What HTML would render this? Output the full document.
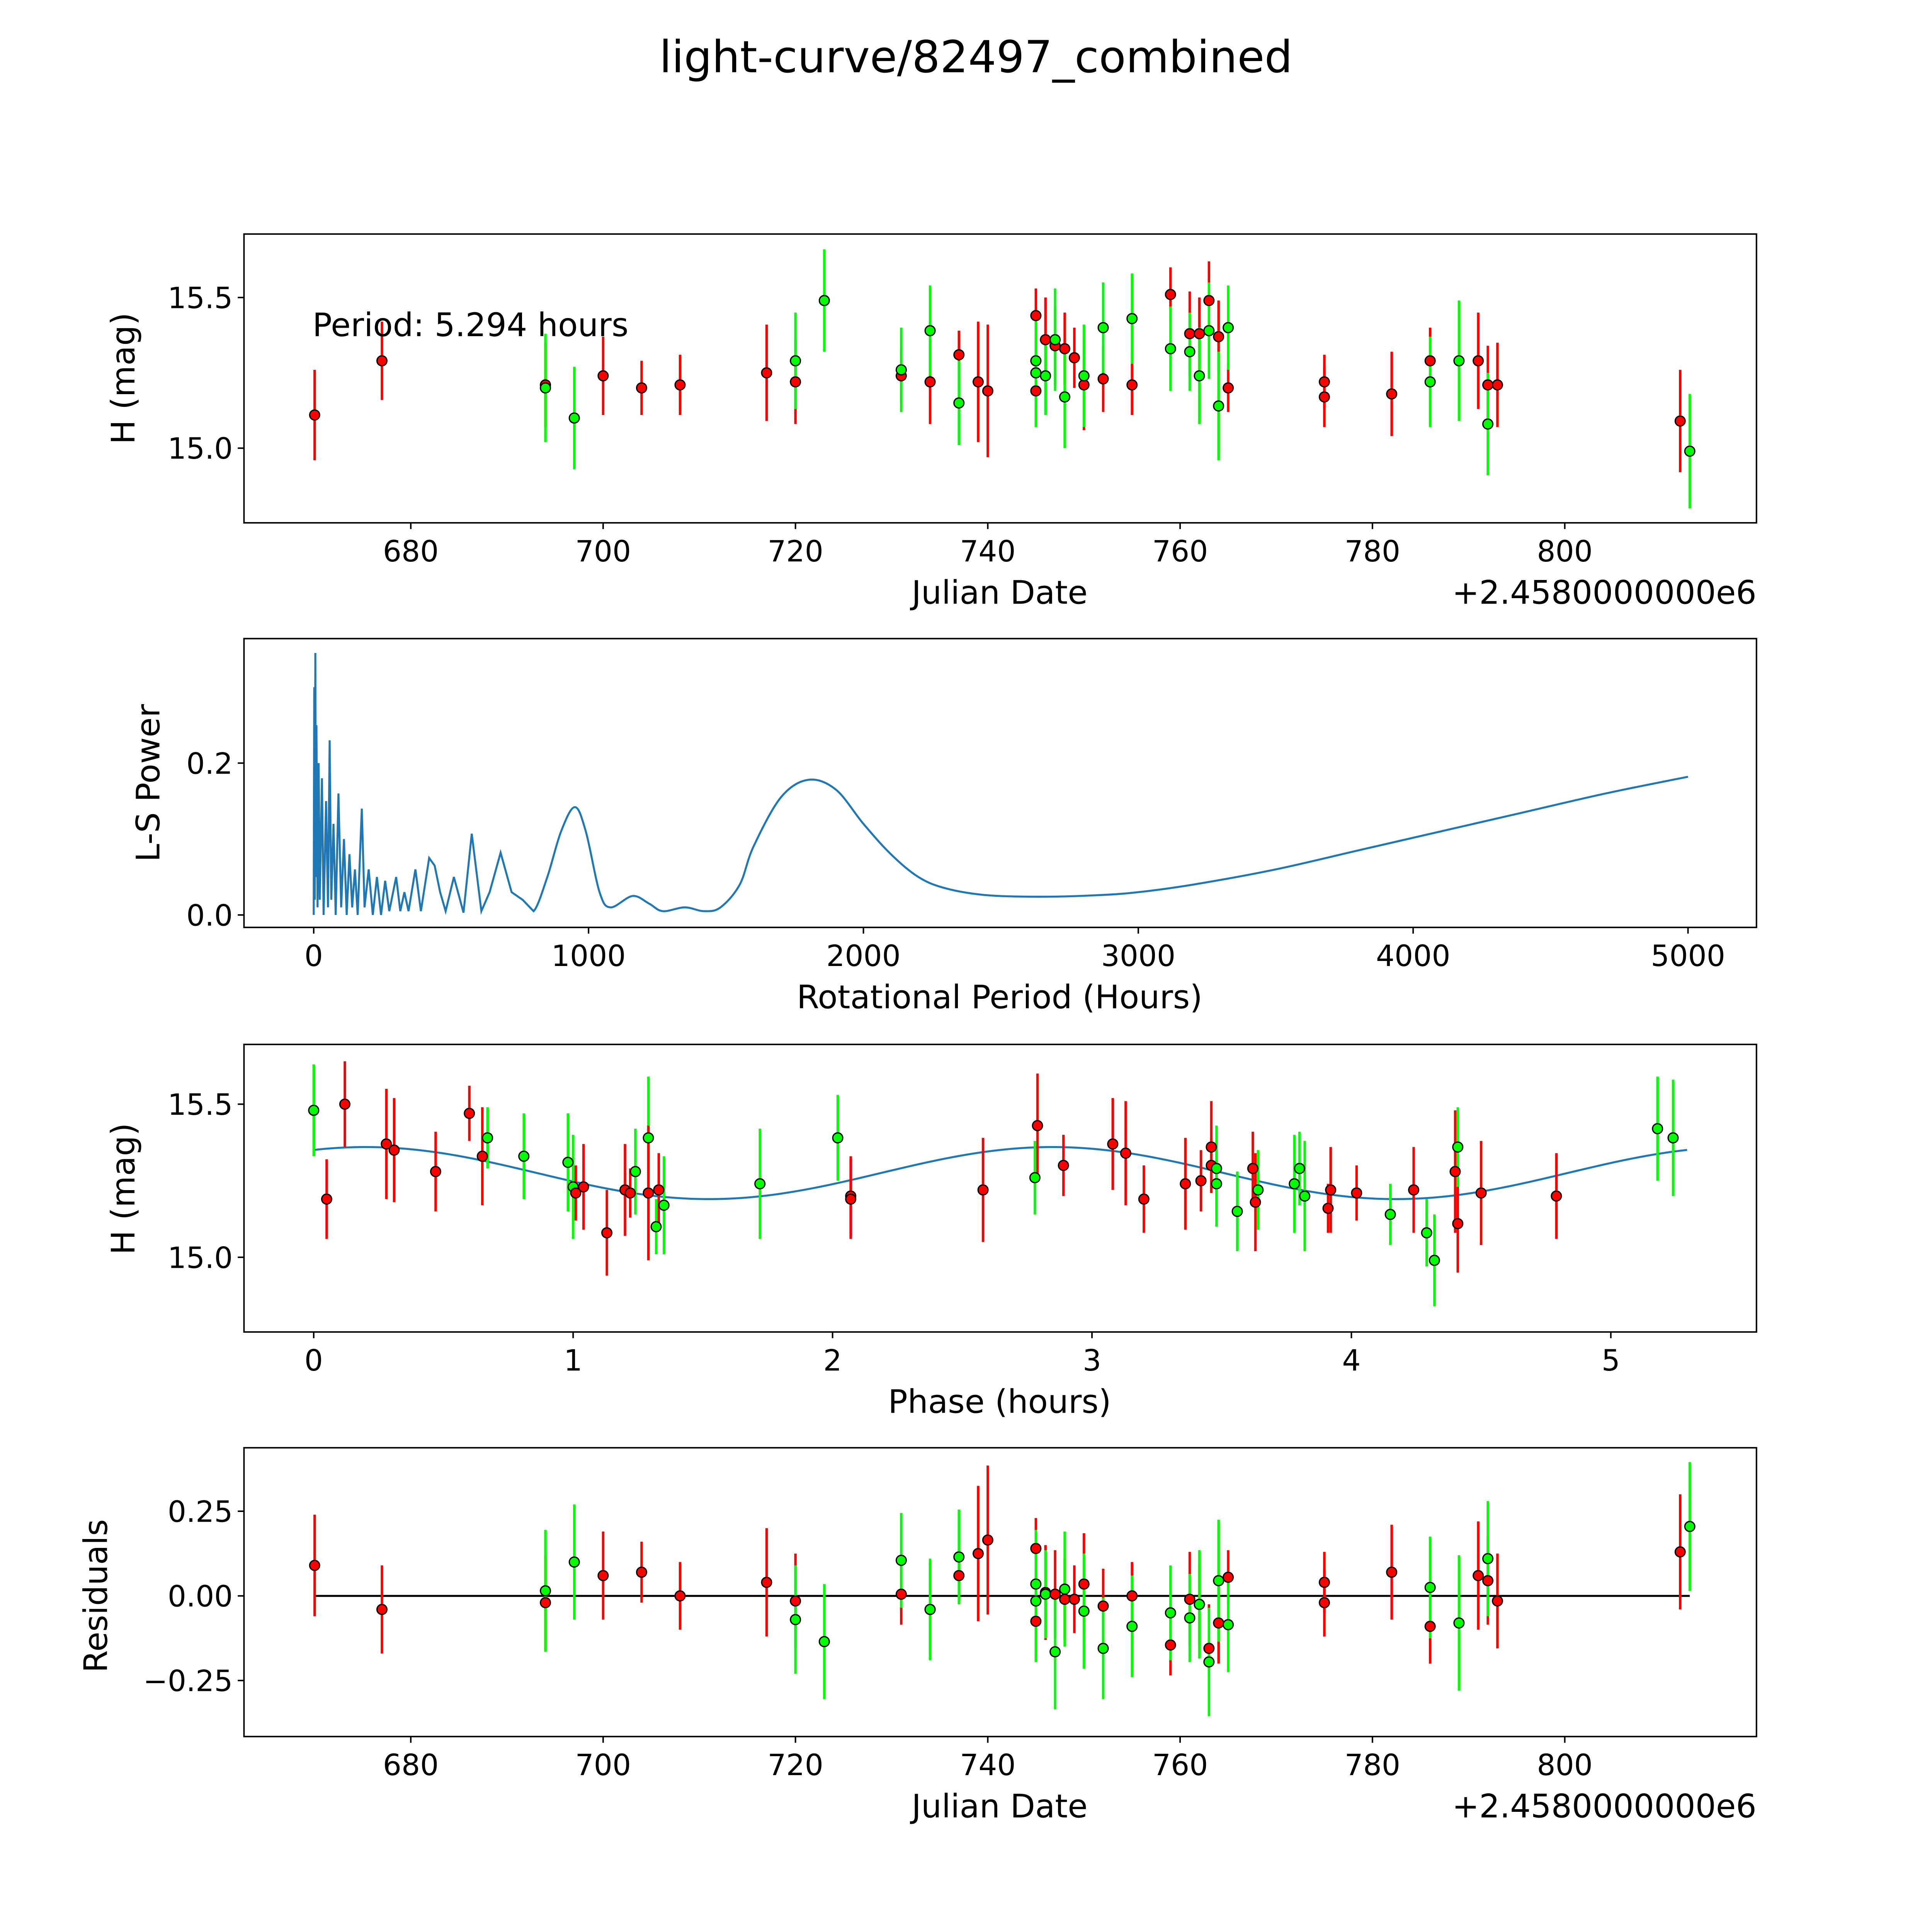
<!DOCTYPE html>
<html><head><meta charset="utf-8"><style>
html,body{margin:0;padding:0;background:#fff;overflow:hidden;width:100vw;height:100vh;}
svg{display:block;position:fixed;left:0;top:0;width:100vw;height:100vh;font-family:"DejaVu Sans","Liberation Sans",sans-serif;}
</style></head><body>
<svg id="chart" viewBox="0 0 1552 1552" preserveAspectRatio="none" xmlns="http://www.w3.org/2000/svg">
<rect width="1552" height="1552" fill="#fff"/>
<text x="784" y="58" font-size="35.5" text-anchor="middle">light-curve/82497_combined</text>
<g id="g"></g>
</svg>
<script>
// observation data
const jd = [670,677,694,694,697,700,704,708,717,720,720,723,731,731,734,734,737,737,739,740,745,745,745,745,746,746,747,747,748,748,749,750,750,752,752,755,755,759,759,761,761,762,762,763,763,764,764,765,765,775,775,782,786,786,789,791,792,792,793,812,813];
const mag = [15.11,15.29,15.21,15.20,15.10,15.24,15.20,15.21,15.25,15.22,15.29,15.49,15.24,15.26,15.22,15.39,15.31,15.15,15.22,15.19,15.44,15.19,15.29,15.25,15.36,15.24,15.34,15.36,15.33,15.17,15.30,15.21,15.24,15.23,15.40,15.21,15.43,15.51,15.33,15.38,15.32,15.38,15.24,15.49,15.39,15.37,15.14,15.20,15.40,15.22,15.17,15.18,15.29,15.22,15.29,15.29,15.21,15.08,15.21,15.09,14.99];
const band = ["r","r","r","g","g","r","r","r","r","r","g","g","r","g","r","g","r","g","r","r","r","r","g","g","r","g","r","g","r","g","r","r","g","r","g","r","g","r","g","r","g","r","g","r","g","r","g","r","g","r","r","r","r","g","g","r","r","g","r","r","g"];
const err = [0.15,0.13,0.14,0.18,0.17,0.13,0.09,0.1,0.16,0.14,0.16,0.17,0.09,0.14,0.14,0.15,0.08,0.14,0.2,0.22,0.09,0.12,0.16,0.18,0.14,0.13,0.13,0.17,0.12,0.17,0.1,0.15,0.17,0.11,0.15,0.1,0.15,0.09,0.14,0.14,0.13,0.12,0.16,0.13,0.16,0.12,0.18,0.08,0.14,0.09,0.1,0.14,0.11,0.15,0.2,0.16,0.13,0.17,0.14,0.17,0.19];
const resid = [0.09,-0.04,-0.02,0.015,0.10,0.06,0.07,0.0,0.04,-0.015,-0.07,-0.135,0.005,0.105,-0.04,-0.04,0.06,0.115,0.125,0.165,0.14,-0.075,0.035,-0.015,0.01,0.005,0.005,-0.165,-0.01,0.02,-0.01,0.035,-0.045,-0.03,-0.155,0.0,-0.09,-0.145,-0.05,-0.01,-0.065,-0.025,-0.025,-0.155,-0.195,-0.08,0.045,0.055,-0.085,0.04,-0.02,0.07,-0.09,0.025,-0.08,0.06,0.045,0.11,-0.015,0.13,0.205];
// phased data
const phP = [0,0.05,0.12,0.28,0.31,0.47,0.6,0.67,0.65,0.81,0.98,1.0,1.01,1.04,1.13,1.2,1.22,1.24,1.29,1.29,1.32,1.33,1.35,1.72,2.02,2.07,2.07,2.58,2.78,2.79,2.89,3.08,3.13,3.2,3.36,3.42,3.46,3.46,3.48,3.48,3.56,3.62,3.63,3.64,3.78,3.8,3.82,3.91,3.92,4.02,4.15,4.24,4.29,4.32,4.4,4.41,4.41,4.5,4.79,5.18,5.24];
const phMag = [15.48,15.19,15.50,15.37,15.35,15.28,15.47,15.39,15.33,15.33,15.31,15.23,15.21,15.23,15.08,15.22,15.21,15.28,15.39,15.21,15.10,15.22,15.17,15.24,15.39,15.20,15.19,15.22,15.26,15.43,15.30,15.37,15.34,15.19,15.24,15.25,15.36,15.30,15.29,15.24,15.15,15.29,15.18,15.22,15.24,15.29,15.20,15.16,15.22,15.21,15.14,15.22,15.08,14.99,15.28,15.11,15.36,15.21,15.20,15.42,15.39];
const phBand = ["g","r","r","r","r","r","r","g","r","g","g","g","r","r","r","r","r","g","g","r","g","r","g","g","g","r","r","r","g","r","r","r","r","r","r","r","r","r","g","g","g","r","r","g","g","g","g","r","r","r","g","r","g","g","r","r","g","r","r","g","g"];
// periodogram
const lsPeriod = [0,2,4,6,8,10,14,18,22,30,36,45,52,58,64,72,80,90,100,110,120,130,140,150,160,175,185,200,215,230,245,260,275,300,315,330,345,370,390,420,440,460,480,510,545,575,610,640,680,720,760,800,850,900,950,990,1040,1080,1160,1220,1270,1350,1420,1480,1550,1600,1700,1800,1900,2000,2100,2200,2300,2450,2650,2850,3000,3200,3500,3800,4100,4400,4700,5000];
const lsPower = [0,0.30,0.02,0.345,0.05,0.25,0.01,0.2,0.02,0.18,0,0.15,0.01,0.23,0.02,0.12,0,0.16,0.01,0.1,0,0.08,0.01,0.06,0,0.14,0.01,0.06,0,0.05,0,0.045,0.005,0.05,0.005,0.03,0.005,0.06,0.005,0.075,0.065,0.03,0.005,0.05,0.003,0.107,0.005,0.03,0.082,0.03,0.02,0.005,0.05,0.11,0.142,0.11,0.03,0.01,0.025,0.015,0.005,0.01,0.005,0.01,0.04,0.09,0.155,0.178,0.165,0.12,0.08,0.05,0.035,0.026,0.024,0.026,0.03,0.04,0.06,0.085,0.11,0.135,0.16,0.182];
const period = 5.294;
const xTicksJD = [680,700,720,740,760,780,800];
const yTicksMag = [15.0,15.5];
const xTicksLS = [0,1000,2000,3000,4000,5000];
const yTicksLS = [0.0,0.2];
const xTicksPh = [0,1,2,3,4,5];
const yTicksRes = [-0.25,0.00,0.25];

const NS="http://www.w3.org/2000/svg";
const G=document.getElementById('g');
function mk(tag,attrs,parent){const e=document.createElementNS(NS,tag);for(const k in attrs)e.setAttribute(k,attrs[k]);(parent||G).appendChild(e);return e;}
function lin(d0,d1,p0,p1){return v=>p0+(v-d0)*(p1-p0)/(d1-d0);}
const L=196,R=1411;
const xJD=lin(680,800,330,1257);
const TS=23.5, LS=26;
function frame(top,bot,name){
  const r=mk('rect',{x:L,y:top,width:R-L,height:bot-top,fill:'none',stroke:'#000','stroke-width':1.2});
  
  
}
function xticks(ticks,fx,bot,fmt,name){
  ticks.forEach(t=>{const x=fx(t);
    mk('line',{x1:x,x2:x,y1:bot,y2:bot+5,stroke:'#000','stroke-width':1.2});
    const tx=mk('text',{x:x,y:bot+31,'font-size':TS,'text-anchor':'middle'});tx.textContent=fmt(t);
    
    
  });
}
function yticks(ticks,fy,fmt,name){
  ticks.forEach(t=>{const y=fy(t);
    mk('line',{x1:L-5,x2:L,y1:y,y2:y,stroke:'#000','stroke-width':1.2});
    const tx=mk('text',{x:L-9,y:y+8.5,'font-size':TS,'text-anchor':'end'});tx.textContent=fmt(t);
    
    
  });
}
function label(x,y,txt,rot,name){
  const t=mk('text',{x:x,y:y,'font-size':LS,'text-anchor':'middle'});
  if(rot)t.setAttribute('transform','rotate(-90 '+x+' '+y+')');
  t.textContent=txt;
  
  
}
function points(xs,ys,es,bands,name){
  xs.forEach((xv,i)=>{const c=bands[i]==='r'?'#ff0000':'#00ff00';
    const l=mk('line',{x1:xv,x2:xv,y1:es[i][0],y2:es[i][1],stroke:c,'stroke-width':2});
    
    
  });
  xs.forEach((xv,i)=>{const c=bands[i]==='r'?'#ff0000':'#00ff00';
    const p=mk('circle',{cx:xv,cy:ys[i],r:4,fill:c,stroke:'#000','stroke-width':1});
    
    
  });
}
const mfmt=v=>v.toFixed(1);
// Panel 1
const y1=lin(15.0,15.5,360,239);
frame(188,420,'lightcurve');
xticks(xTicksJD,xJD,420,v=>v,'lightcurve');yticks(yTicksMag,y1,mfmt,'lightcurve');
points(jd.map(xJD),mag.map(y1),mag.map((m,i)=>[y1(m-err[i]),y1(m+err[i])]),band,'lightcurve');
label(803,485,'Julian Date',false,'lightcurve-x-axis-title');
label(108,304,'H (mag)',true,'lightcurve-y-axis-title');
(function(){const t=mk('text',{x:1411,y:485,'font-size':LS,'text-anchor':'end'});t.textContent='+2.4580000000e6';
})();
(function(){const t=mk('text',{x:251,y:270,'font-size':26});t.textContent='Period: 5.294 hours';
})();
// Panel 2
const xLS=lin(0,5000,252,1356),yLS=lin(0,0.2,735,613);
frame(513,745,'periodogram');
xticks(xTicksLS,xLS,745,v=>v,'periodogram');yticks(yTicksLS,yLS,mfmt,'periodogram');
(function(){
  const P=lsPeriod.map((p,i)=>[xLS(p),yLS(lsPower[i])]);
  let d='M'+P[0][0]+','+P[0][1];
  for(let i=0;i<P.length-1;i++){
    const p0=P[Math.max(0,i-1)],p1=P[i],p2=P[i+1],p3=P[Math.min(P.length-1,i+2)];
    const t=lsPeriod[i]<800?0:1/6;
    const c1=[p1[0]+(p2[0]-p0[0])*t,p1[1]+(p2[1]-p0[1])*t];
    const c2=[p2[0]-(p3[0]-p1[0])*t,p2[1]-(p3[1]-p1[1])*t];
    d+=' C'+c1[0]+','+c1[1]+' '+c2[0]+','+c2[1]+' '+p2[0]+','+p2[1];
  }
  const pl=mk('path',{d:d,fill:'none',stroke:'#1f77b4','stroke-width':1.6});
  })();
label(803,810,'Rotational Period (Hours)',false,'periodogram-x-axis-title');
label(128,629,'L-S Power',true,'periodogram-y-axis-title');
// Panel 3
const xPh=lin(0,5,252,1294),y3=lin(15.0,15.5,1010,887);
const model=p=>15.275+0.085*Math.cos(2*Math.PI*(p-0.2)/(period/2));
frame(839,1070,'phased');
xticks(xTicksPh,xPh,1070,v=>v,'phased');yticks(yTicksMag,y3,mfmt,'phased');
(function(){const pts=[];for(let k=0;k<=200;k++){const p=period*k/200;pts.push(xPh(p)+','+y3(model(p)));}
const pl=mk('polyline',{points:pts.join(' '),fill:'none',stroke:'#1f77b4','stroke-width':1.6});
})();
points(phP.map(xPh),phMag.map(y3),phMag.map((m,i)=>[y3(m-err[i]),y3(m+err[i])]),phBand,'phased');
label(803,1135,'Phase (hours)',false,'phased-x-axis-title');
label(108,955,'H (mag)',true,'phased-y-axis-title');
// Panel 4
const y4=lin(0,0.25,1282,1214);
frame(1163,1395,'residuals');
xticks(xTicksJD,xJD,1395,v=>v,'residuals');yticks(yTicksRes,y4,v=>(v<0?'\u2212':'')+Math.abs(v).toFixed(2),'residuals');
(function(){const l=mk('line',{x1:xJD(670),x2:xJD(813),y1:y4(0),y2:y4(0),stroke:'#000','stroke-width':1.6});
})();
points(jd.map(xJD),resid.map(y4),resid.map((m,i)=>[y4(m-err[i]),y4(m+err[i])]),band,'residuals');
label(803,1460,'Julian Date',false,'residuals-x-axis-title');
label(86,1282,'Residuals',true,'residuals-y-axis-title');
(function(){const t=mk('text',{x:1411,y:1460,'font-size':LS,'text-anchor':'end'});t.textContent='+2.4580000000e6';
})();
</script>
</body></html>
